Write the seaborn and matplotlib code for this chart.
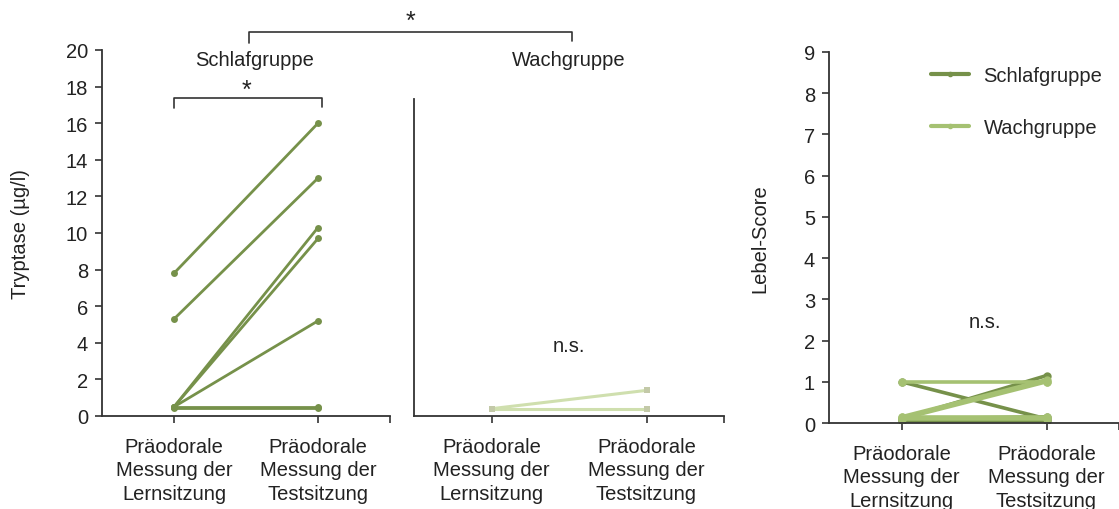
import matplotlib
matplotlib.use("Agg")
import matplotlib.pyplot as plt
import seaborn as sns
import pandas as pd
from matplotlib.lines import Line2D

# ---------------- data ----------------
categories = ["Präodorale\nMessung der\nLernsitzung", "Präodorale\nMessung der\nTestsitzung"]
groups = ["Schlafgruppe", "Wachgruppe"]

tryptase_schlaf_lern = [7.8, 5.3, 0.5, 0.5, 0.5, 0.5, 0.45]
tryptase_schlaf_test = [16.0, 13.0, 10.3, 9.7, 5.2, 0.5, 0.45]
tryptase_wach_lern = [0.4, 0.4]
tryptase_wach_test = [1.4, 0.4]

lebel_schlaf_lern = [1.0, 0.1, 0.05, 0.1]
lebel_schlaf_test = [0.1, 1.15, 0.05, 0.15]
lebel_wach_lern = [1.0, 0.15, 0.1, 0.15, 0.1]
lebel_wach_test = [1.0, 1.05, 1.0, 0.15, 0.1]

dark_green = "#76914a"
mid_green = "#a5c172"
light_green = "#cfdfae"
text_color = "#222222"
FS = 14.5


def long_df(lern, test, group):
    rows = []
    for i, (a, b) in enumerate(zip(lern, test)):
        rows.append({"id": f"{group}{i}", "pos": 0, "value": a, "group": group})
        rows.append({"id": f"{group}{i}", "pos": 1, "value": b, "group": group})
    return pd.DataFrame(rows)


df_t_s = long_df(tryptase_schlaf_lern, tryptase_schlaf_test, groups[0])
df_t_w = long_df(tryptase_wach_lern, tryptase_wach_test, groups[1])
df_l = pd.concat([long_df(lebel_schlaf_lern, lebel_schlaf_test, groups[0]),
                  long_df(lebel_wach_lern, lebel_wach_test, groups[1])])

# ---------------- style ----------------
sns.set_style("ticks")
plt.rcParams["font.family"] = ["Liberation Sans", "DejaVu Sans"]
plt.rcParams["font.size"] = FS
plt.rcParams["axes.edgecolor"] = "#333333"
plt.rcParams["xtick.color"] = "#333333"
plt.rcParams["ytick.color"] = "#333333"
plt.rcParams["xtick.labelcolor"] = text_color
plt.rcParams["ytick.labelcolor"] = text_color

W, H = 1119, 510
fig = plt.figure(figsize=(W / 100, H / 100), dpi=100)


def fx(px):
    return px / W


def fy(py):
    return 1 - py / H


ax1 = fig.add_axes([fx(102), fy(417), fx(390) - fx(102), fy(51) - fy(417)])
ax2 = fig.add_axes([fx(414), fy(417), fx(724) - fx(414), fy(51) - fy(417)])
ax3 = fig.add_axes([fx(829), fy(424), fx(1119) - fx(829), fy(53) - fy(424)])

# left panel
sns.lineplot(data=df_t_s, x="pos", y="value", units="id", estimator=None,
             color=dark_green, lw=2.0, marker="o", markersize=5,
             markeredgewidth=0, ax=ax1, legend=False)
# middle panel
sns.lineplot(data=df_t_w, x="pos", y="value", units="id", estimator=None,
             color=light_green, lw=2.2, marker="s", markersize=5,
             markerfacecolor="#c3c9a8", markeredgewidth=0, ax=ax2, legend=False)
# right panel
sns.lineplot(data=df_l, x="pos", y="value", units="id", estimator=None,
             hue="group", palette={groups[0]: dark_green, groups[1]: mid_green},
             lw=2.6, marker="o", markersize=6, markeredgewidth=0,
             ax=ax3, legend=False)

for ax in (ax1, ax2, ax3):
    ax.set_xlim(-0.5, 1.5)
    ax.set_xticks([0, 1])
    ax.set_xticklabels(categories, fontsize=FS, linespacing=1.3)
    ax.set_xticks([1.5], minor=True)
    ax.tick_params(axis="x", which="both", length=5, width=1.2, pad=10)
    ax.tick_params(axis="y", length=5, width=1.2, labelsize=FS, pad=5)
    ax.set_xlabel("")
    sns.despine(ax=ax)
    for s in ("left", "bottom"):
        ax.spines[s].set_linewidth(1.3)

ax1.set_ylim(0, 20)
ax1.set_yticks(range(0, 21, 2))
ax1.set_ylabel("Tryptase (µg/l)", fontsize=FS, labelpad=26, color=text_color)

ax2.set_ylim(0, 20)
ax2.spines["left"].set_bounds(0, 17.3)
ax2.set_yticks([])
ax2.set_ylabel("")

ax3.set_ylim(0, 9)
ax3.set_yticks(range(0, 10))
ax3.set_ylabel("Lebel-Score", fontsize=FS, labelpad=25, color=text_color)

# group labels and significance brackets
fig.text(fx(255), fy(60), "Schlafgruppe", ha="center", va="center", fontsize=FS, color=text_color)
fig.text(fx(569), fy(60), "Wachgruppe", ha="center", va="center", fontsize=FS, color=text_color)
fig.add_artist(Line2D([fx(249), fx(249), fx(572), fx(572)],
                      [fy(44), fy(33), fy(33), fy(42)], color="#333333", lw=1.2))
fig.text(fx(410), fy(22), "*", ha="center", va="center", fontsize=18, color=text_color)
fig.add_artist(Line2D([fx(174), fx(174), fx(322), fx(322)],
                      [fy(109), fy(99), fy(99), fy(108)], color="#333333", lw=1.2))
fig.text(fx(246), fy(91), "*", ha="center", va="center", fontsize=18, color=text_color)
fig.text(fx(569), fy(347), "n.s.", ha="center", va="center", fontsize=FS, color=text_color)
fig.text(fx(985), fy(323), "n.s.", ha="center", va="center", fontsize=FS, color=text_color)

# legend
handles = [Line2D([0], [0], color=dark_green, lw=3, marker="o", markersize=3),
           Line2D([0], [0], color=mid_green, lw=3, marker="o", markersize=3)]
ax3.legend(handles, groups, loc="upper left", bbox_to_anchor=(0.29, 1.01),
           frameon=False, fontsize=FS, labelspacing=1.6, handlelength=1.9,
           handletextpad=0.7)

fig.savefig("out.png", dpi=100)
